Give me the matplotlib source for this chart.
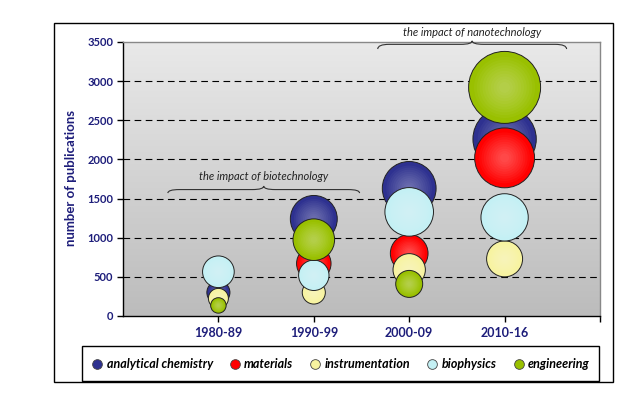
import numpy as np
import matplotlib
matplotlib.use("Agg")
import matplotlib.pyplot as plt
from matplotlib.path import Path
from matplotlib.patches import PathPatch, Rectangle
from matplotlib.lines import Line2D
from matplotlib.colors import LinearSegmentedColormap

plt.rcParams['font.family'] = ['Lato', 'DejaVu Sans']

# data
periods = ["1980-89", "1990-99", "2000-09", "2010-16"]
series = ["analytical chemistry", "materials", "instrumentation", "biophysics", "engineering"]
analytical = [300, 1240, 1630, 2260]
materials = [np.nan, 670, 800, 2020]
instrumentation = [225, 300, 590, 730]
biophysics = [565, 520, 1330, 1260]
engineering = [135, 975, 410, 2920]
colors = ["#2e3190", "#ff0000", "#f7f3a0", "#c4f0f4", "#99c000"]
y_ticks = [0, 500, 1000, 1500, 2000, 2500, 3000, 3500]
grid_levels = [500, 1000, 1500, 2000, 2500, 3000]

navy = "#1d1d7a"
x = np.arange(1, len(periods) + 1)

fig = plt.figure(figsize=(6.4, 3.97), dpi=100)
ax = fig.add_axes([123/640, 81/397, 477/640, 274/397])

# grey gradient plot area
cmap = LinearSegmentedColormap.from_list("bg", ["#e9e9e9", "#bcbcbc"])
ax.imshow(np.linspace(0, 1, 256).reshape(-1, 1), cmap=cmap, extent=[0, 5, 0, 3500],
          aspect="auto", zorder=0)
ax.hlines(grid_levels, 0, 5, colors="k", linestyles=(0, (6, 4)), lw=0.8, zorder=1)

for i, (name, vals, c) in enumerate(zip(series, [analytical, materials, instrumentation,
                                                  biophysics, engineering], colors)):
    vals = np.array(vals, dtype=float)
    s = vals * 0.92
    z = 3 + i
    ax.scatter(x, vals, s=s, color=c, edgecolors="#222222", linewidths=0.7, zorder=z)
    # soft highlight towards the centre, sphere-like
    for f in np.linspace(0.85, 0.15, 10):
        ax.scatter(x, vals, s=s * f**2, color="white", alpha=0.035, lw=0, zorder=z + 0.1)

ax.set_xlim(0, 5)
ax.set_ylim(0, 3500)
ax.set_xticks([1, 2, 3, 4, 5])
ax.set_xticklabels(periods + [""], fontsize=9, fontweight="bold", color=navy)
ax.set_yticks(y_ticks)
ax.set_yticklabels([str(v) for v in y_ticks], fontsize=8, fontweight="bold", color=navy)
ax.tick_params(axis="both", direction="out", length=4, width=1, color="k")
ax.tick_params(axis="x", pad=4)
ax.tick_params(axis="y", pad=3)
for sp in ["left", "bottom"]:
    ax.spines[sp].set_color("k")
    ax.spines[sp].set_linewidth(1)
for sp in ["top", "right"]:
    ax.spines[sp].set_color("#888888")
    ax.spines[sp].set_linewidth(1)

ax.set_ylabel("number of publications", fontsize=9.5, fontweight="bold", color=navy)
ax.yaxis.set_label_coords((77 - 123) / 477, 0.504)


def brace(x0, x1, y_end, y_flat, y_peak):
    xm = (x0 + x1) / 2
    w = 0.12
    verts = [(x0, y_end), (x0, y_flat), (x0 + w, y_flat), (xm - w, y_flat),
             (xm, y_flat), (xm, y_peak),
             (xm, y_flat), (xm + w, y_flat), (x1 - w, y_flat),
             (x1, y_flat), (x1, y_end)]
    codes = [Path.MOVETO, Path.CURVE3, Path.CURVE3, Path.LINETO,
             Path.CURVE3, Path.CURVE3,
             Path.CURVE3, Path.CURVE3, Path.LINETO,
             Path.CURVE3, Path.CURVE3]
    ax.add_patch(PathPatch(Path(verts, codes), fill=False, ec="#333333", lw=0.8,
                           clip_on=False, zorder=10))


brace(0.47, 2.48, 1570, 1615, 1660)
ax.text(1.47, 1785, "the impact of biotechnology", ha="center", va="center",
        fontsize=8, style="italic", color="#222222", zorder=10)
brace(2.67, 4.65, 3410, 3470, 3515)
ax.text(3.66, 3625, "the impact of nanotechnology", ha="center", va="center",
        fontsize=8, style="italic", color="#222222", clip_on=False, zorder=10)

# outer frame and legend box
fig.add_artist(Rectangle((54/640, 15/397), 559/640, 359/397, transform=fig.transFigure,
                         fill=False, ec="k", lw=1))
fig.add_artist(Rectangle((82/640, 16/397), 517/640, 35/397, transform=fig.transFigure,
                         fill=False, ec="k", lw=1))
handles = [Line2D([], [], ls="", marker="o", markersize=7, markerfacecolor=c,
                  markeredgecolor="#444444", markeredgewidth=0.6) for c in colors]
leg = fig.legend(handles, series, ncol=5, loc="center", frameon=False,
                 bbox_to_anchor=(341/640, 33/397), handlelength=0.8, handletextpad=0.35,
                 columnspacing=1.35, prop={"size": 9, "weight": "bold", "style": "italic"})

fig.savefig("out.png", dpi=100)
